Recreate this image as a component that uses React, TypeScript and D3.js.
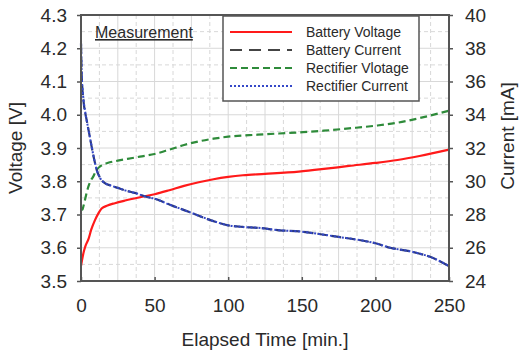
import React, { useEffect, useRef } from "react";
import * as d3 from "d3";

// battery voltage [V]
const bvTime = [0, 1, 2, 3, 5, 7, 9.5, 12, 14, 18, 23, 30, 40, 50, 60, 70, 80, 90, 100, 110, 125, 148, 165, 182, 200, 215, 230, 250];
const bvValue = [3.545, 3.57, 3.59, 3.605, 3.625, 3.655, 3.683, 3.705, 3.718, 3.727, 3.734, 3.742, 3.752, 3.761, 3.773, 3.786, 3.797, 3.806, 3.813, 3.818, 3.822, 3.829, 3.837, 3.846, 3.855, 3.864, 3.876, 3.895];

// rectifier voltage [V]
const rvTime = [0, 1, 1.6, 3, 5, 7, 8.3, 10, 12.8, 15, 18, 25, 35, 40, 50, 60, 70, 80, 90, 100, 120, 148, 165, 182, 200, 215, 230, 250];
const rvValue = [3.713, 3.715, 3.724, 3.75, 3.784, 3.805, 3.814, 3.83, 3.844, 3.85, 3.855, 3.862, 3.87, 3.874, 3.882, 3.895, 3.909, 3.92, 3.928, 3.934, 3.94, 3.947, 3.952, 3.959, 3.967, 3.976, 3.99, 4.012];

// battery current [mA]
const bcTime = [0, 0.5, 1, 2, 3.8, 5.5, 7.2, 9, 10.6, 13, 16, 20, 25, 30, 36.5, 45, 50, 60, 75, 90, 100, 110, 120, 135, 150, 160, 175, 190, 200, 210, 225, 240, 250];
const bcValue = [38.3, 36.3, 35.5, 34.6, 33.7, 32.9, 32.1, 31.3, 30.7, 30.2, 29.9, 29.75, 29.6, 29.45, 29.3, 29.05, 28.95, 28.6, 28.1, 27.6, 27.35, 27.25, 27.2, 27.05, 26.97, 26.85, 26.65, 26.45, 26.27, 26.0, 25.76, 25.35, 24.9];

// rectifier current [mA]
const rcTime = [0, 0.5, 1, 2, 3.8, 5.5, 7.2, 9, 10.6, 13, 16, 20, 25, 30, 36.5, 45, 50, 60, 75, 90, 100, 110, 120, 135, 150, 160, 175, 190, 200, 210, 225, 240, 250];
const rcValue = [38.5, 36.4, 35.6, 34.7, 33.7, 32.9, 32.1, 31.3, 30.7, 30.2, 29.9, 29.75, 29.6, 29.45, 29.3, 29.05, 28.95, 28.6, 28.1, 27.6, 27.35, 27.25, 27.2, 27.05, 26.97, 26.85, 26.65, 26.45, 26.27, 26.0, 25.76, 25.35, 24.9];

const xTicks = [0, 50, 100, 150, 200, 250];
const voltTicks = [3.5, 3.6, 3.7, 3.8, 3.9, 4.0, 4.1, 4.2, 4.3];
const currTicks = [24, 26, 28, 30, 32, 34, 36, 38, 40];

const legendLabels = ["Battery Voltage", "Battery Current", "Rectifier Vlotage", "Rectifier Current"];

const FONT = "'Liberation Sans', Arial, sans-serif";

export default function App() {
  const ref = useRef<SVGSVGElement>(null);

  useEffect(() => {
    const margin = { top: 15, right: 70, bottom: 76, left: 81 };
    const W = 519;
    const H = 357;
    const width = W - margin.left - margin.right;
    const height = H - margin.top - margin.bottom;

    const svg = d3.select(ref.current);
    svg.selectAll("*").remove();

    const g = svg.append("g").attr("transform", `translate(${margin.left},${margin.top})`);

    const x = d3.scaleLinear().domain([0, 250]).range([0, width]);
    const yV = d3.scaleLinear().domain([3.5, 4.3]).range([height, 0]);
    const yC = d3.scaleLinear().domain([24, 40]).range([height, 0]);

    // grid
    const grid = g.append("g");
    d3.range(0, 250.1, 12.5).forEach((t) => {
      grid.append("line")
        .attr("x1", x(t)).attr("x2", x(t)).attr("y1", 0).attr("y2", height)
        .attr("stroke", "#d8d8d8").attr("stroke-width", 1)
        .attr("stroke-dasharray", t % 25 === 0 ? null : "4,3");
    });
    d3.range(3.5, 4.301, 0.05).forEach((v, i) => {
      grid.append("line")
        .attr("x1", 0).attr("x2", width).attr("y1", yV(v)).attr("y2", yV(v))
        .attr("stroke", "#d8d8d8").attr("stroke-width", 1)
        .attr("stroke-dasharray", i % 2 === 0 ? null : "4,3");
    });

    const line = (ts: number[], vs: number[], y: d3.ScaleLinear<number, number>) =>
      d3.line<number>().x((d, i) => x(ts[i])).y((d) => y(d)).curve(d3.curveMonotoneX)(vs);

    g.append("path").attr("d", line(rvTime, rvValue, yV)).attr("fill", "none")
      .attr("stroke", "#2e8b3a").attr("stroke-width", 2.2).attr("stroke-dasharray", "7,4");
    g.append("path").attr("d", line(bvTime, bvValue, yV)).attr("fill", "none")
      .attr("stroke", "#ff1a1a").attr("stroke-width", 2.2);
    g.append("path").attr("d", line(bcTime, bcValue, yC)).attr("fill", "none")
      .attr("stroke", "#2b3a80").attr("stroke-width", 2.2).attr("stroke-dasharray", "10,4");
    g.append("path").attr("d", line(rcTime, rcValue, yC)).attr("fill", "none")
      .attr("stroke", "#3548c8").attr("stroke-width", 2).attr("stroke-dasharray", "2,2");

    // frame
    g.append("rect").attr("x", 0).attr("y", 0).attr("width", width).attr("height", height)
      .attr("fill", "none").attr("stroke", "#555").attr("stroke-width", 2);

    const styleAxis = (a: d3.Selection<SVGGElement, unknown, null, undefined>) => {
      a.select(".domain").remove();
      a.selectAll("line").attr("stroke", "#555").attr("stroke-width", 1.5);
      a.selectAll("text").attr("fill", "#2a2a2a").style("font-family", FONT).style("font-size", "19px");
    };

    const xAxis = g.append("g").attr("transform", `translate(0,${height})`)
      .call(d3.axisBottom(x).tickValues(xTicks).tickSizeInner(-4).tickSizeOuter(0).tickPadding(18).tickFormat(d3.format("d")));
    styleAxis(xAxis);

    const leftAxis = g.append("g")
      .call(d3.axisLeft(yV).tickValues(voltTicks).tickSizeInner(4).tickSizeOuter(0).tickPadding(10).tickFormat(d3.format(".1f")));
    styleAxis(leftAxis);

    const rightAxis = g.append("g").attr("transform", `translate(${width},0)`)
      .call(d3.axisRight(yC).tickValues(currTicks).tickSizeInner(4).tickSizeOuter(0).tickPadding(12).tickFormat(d3.format("d")));
    styleAxis(rightAxis);

    // titles
    svg.append("text").attr("x", margin.left + width / 2).attr("y", 346)
      .attr("text-anchor", "middle").attr("fill", "#2a2a2a")
      .style("font-family", FONT).style("font-size", "19px").text("Elapsed Time [min.]");
    svg.append("text").attr("transform", `translate(22,${margin.top + height / 2}) rotate(-90)`)
      .attr("text-anchor", "middle").attr("fill", "#2a2a2a")
      .style("font-family", FONT).style("font-size", "19px").text("Voltage [V]");
    svg.append("text").attr("transform", `translate(514,136) rotate(-90)`)
      .attr("text-anchor", "middle").attr("fill", "#2a2a2a")
      .style("font-family", FONT).style("font-size", "19px").text("Current [mA]");

    svg.append("text").attr("x", 95).attr("y", 38).attr("fill", "#2a2a2a")
      .style("font-family", FONT).style("font-size", "16px")
      .style("text-decoration", "underline").text("Measurement");

    // legend
    const leg = svg.append("g");
    leg.append("rect").attr("x", 223).attr("y", 16).attr("width", 196).attr("height", 85)
      .attr("fill", "#fff").attr("stroke", "#555").attr("stroke-width", 1.5);
    const legStyles = [
      { color: "#ff1a1a", dash: null, w: 2.2 },
      { color: "#444", dash: "12,7", w: 2.2 },
      { color: "#2e8b3a", dash: "7,4", w: 2.2 },
      { color: "#3548c8", dash: "2,2", w: 2 },
    ];
    legendLabels.forEach((label, i) => {
      const yy = 32 + i * 18;
      leg.append("line").attr("x1", 230).attr("x2", 292).attr("y1", yy).attr("y2", yy)
        .attr("stroke", legStyles[i].color).attr("stroke-width", legStyles[i].w)
        .attr("stroke-dasharray", legStyles[i].dash);
      leg.append("text").attr("x", 306).attr("y", yy).attr("dy", "0.35em").attr("fill", "#2a2a2a")
        .style("font-family", FONT).style("font-size", "14px").text(label);
    });
  }, []);

  return (
    <div style={{ position: "absolute", left: 0, top: 0 }}>
      <svg ref={ref} width={519} height={357} style={{ display: "block", background: "#fff" }} />
    </div>
  );
}
